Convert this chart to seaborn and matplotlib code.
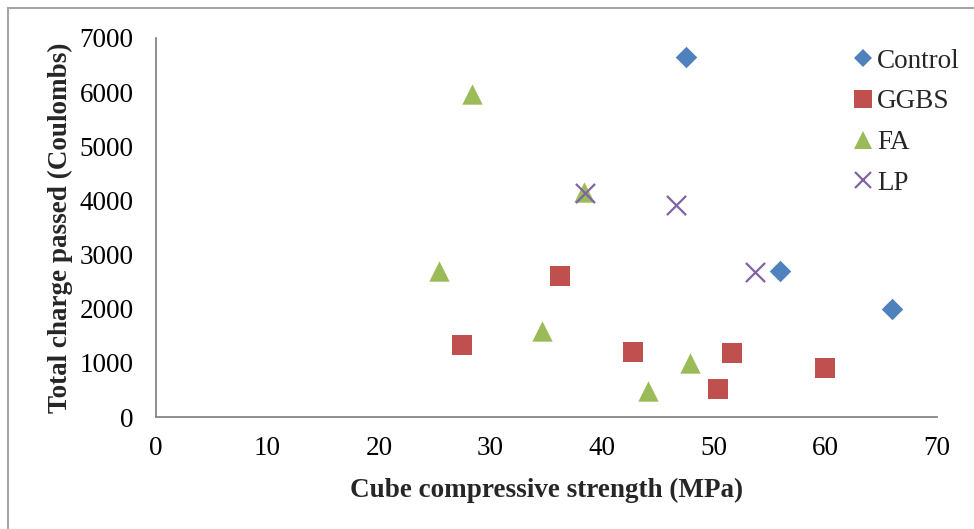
import matplotlib
matplotlib.use("Agg")
import matplotlib.pyplot as plt
from matplotlib.lines import Line2D
from matplotlib.patches import Rectangle
import pandas as pd
import seaborn as sns

# Compressive strength (MPa) and total charge passed (Coulombs) per mix type
control_strength = [47.5, 55.9, 66.0]
control_charge = [6650, 2700, 1990]

ggbs_strength = [36.2, 27.4, 42.8, 50.4, 51.6, 60.0]
ggbs_charge = [2600, 1330, 1200, 520, 1180, 900]

fa_strength = [28.3, 25.4, 34.6, 38.4, 44.1, 47.9]
fa_charge = [5960, 2700, 1590, 4150, 480, 1000]

lp_strength = [38.5, 46.6, 53.7]
lp_charge = [4130, 3910, 2670]

groups = ["Control", "GGBS", "FA", "LP"]
x_ticks = [0, 10, 20, 30, 40, 50, 60, 70]
y_ticks = [0, 1000, 2000, 3000, 4000, 5000, 6000, 7000]

df = pd.concat([
    pd.DataFrame({"strength": control_strength, "charge": control_charge, "mix": "Control"}),
    pd.DataFrame({"strength": ggbs_strength, "charge": ggbs_charge, "mix": "GGBS"}),
    pd.DataFrame({"strength": fa_strength, "charge": fa_charge, "mix": "FA"}),
    pd.DataFrame({"strength": lp_strength, "charge": lp_charge, "mix": "LP"}),
], ignore_index=True)

sns.set_style("white")
plt.rcParams["font.family"] = ["Liberation Serif", "DejaVu Serif"]

colors = {"Control": "#4F81BD", "GGBS": "#C0504D", "FA": "#9BBB59", "LP": "#8064A2"}
markers = {"Control": "D", "GGBS": "s", "FA": "^", "LP": "x"}
sizes = {"Control": 120, "GGBS": 225, "FA": 215, "LP": 190}
legend_ms = {"Control": 9.5, "GGBS": 12.5, "FA": 12.5, "LP": 12.0}

FS = 19.5

fig = plt.figure(figsize=(9.74, 5.29), dpi=100)
ax = fig.add_axes([0.160, 0.2117, 0.802, 0.7165])

for g in groups:
    sub = df[df["mix"] == g]
    if markers[g] == "x":
        sns.scatterplot(data=sub, x="strength", y="charge", ax=ax, marker="x",
                        color=colors[g], s=sizes[g], linewidth=1.6, legend=False, zorder=3)
    else:
        sns.scatterplot(data=sub, x="strength", y="charge", ax=ax, marker=markers[g],
                        color=colors[g], s=sizes[g], linewidth=0, legend=False, zorder=3)

ax.set_xlim(0, 70)
ax.set_ylim(0, 7000)
ax.set_xticks(x_ticks)
ax.set_yticks(y_ticks)
ax.tick_params(axis="both", length=0, labelsize=FS, colors="black")
ax.tick_params(axis="y", pad=16)
ax.tick_params(axis="x", pad=14)

for side in ["top", "right"]:
    ax.spines[side].set_visible(False)
for side in ["left", "bottom"]:
    ax.spines[side].set_color("#868686")
    ax.spines[side].set_linewidth(1.3)

ax.set_xlabel("Cube compressive strength (MPa)", fontsize=FS, fontweight="bold", labelpad=12)
ax.set_ylabel("Total charge passed (Coulombs)", fontsize=FS, fontweight="bold", labelpad=5)

handles = []
for g in groups:
    if markers[g] == "x":
        h = Line2D([], [], linestyle="none", marker="x", color=colors[g],
                   markersize=legend_ms[g], markeredgewidth=1.6)
    else:
        h = Line2D([], [], linestyle="none", marker=markers[g], color=colors[g],
                   markersize=legend_ms[g], markeredgewidth=0)
    handles.append(h)

ax.legend(handles, groups, loc="upper left", bbox_to_anchor=(0.876, 0.908),
          bbox_transform=fig.transFigure, frameon=False, fontsize=FS,
          handlelength=0.75, handletextpad=0.12, labelspacing=0.58, borderaxespad=0,
          borderpad=0)

# Outer chart border
fig.patches.append(Rectangle((8 / 974, -0.2), 1.2, 1.2 - 8 / 529,
                             transform=fig.transFigure, fill=False,
                             edgecolor="#a6a6a6", linewidth=1.5, clip_on=False))

fig.savefig("out.png", dpi=100)
